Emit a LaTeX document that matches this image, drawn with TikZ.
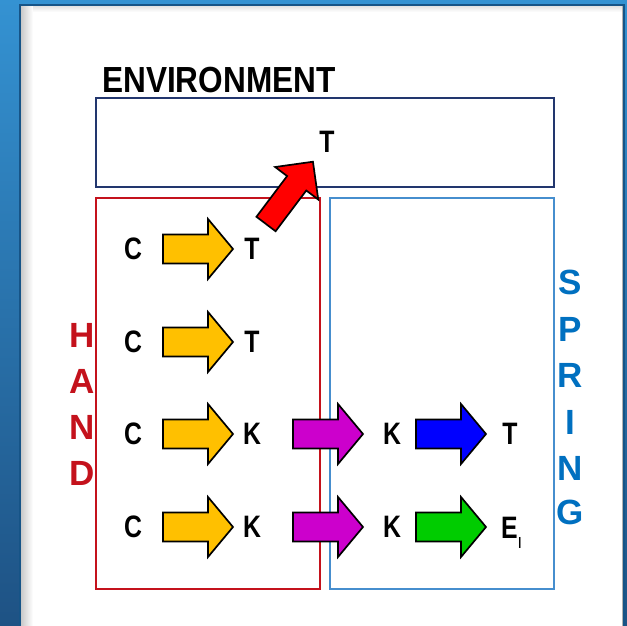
\documentclass[tikz,border=0pt]{standalone}
\usepackage{fontspec}
\setmainfont{Liberation Sans}
\usepackage{graphicx}
\definecolor{bgtop}{RGB}{52,146,210}
\definecolor{bgbot}{RGB}{30,82,132}
\definecolor{edgeblue}{RGB}{22,84,135}
\definecolor{handred}{RGB}{196,18,28}
\definecolor{springblue}{RGB}{0,112,192}
\definecolor{springline}{RGB}{70,142,206}
\definecolor{envnavy}{RGB}{34,54,110}
\definecolor{arryellow}{RGB}{255,192,0}
\definecolor{arrmagenta}{RGB}{204,0,204}
\definecolor{arrblue}{RGB}{0,0,255}
\definecolor{arrgreen}{RGB}{0,204,0}
\definecolor{arrred}{RGB}{255,0,0}
\newcommand{\nar}[1]{\scalebox{0.8}[1]{#1}}
\begin{document}
\begin{tikzpicture}[x=1pt,y=-1pt,
  lbl/.style={inner sep=0pt, font=\fontsize{31}{31}\selectfont\bfseries},
  sidelbl/.style={inner sep=0pt, font=\fontsize{35}{35}\selectfont\bfseries},
  boxline/.style={line width=2pt},
  blockarrow/.pic={\draw[line width=1.7pt, line join=miter, pic actions]
     (0,-14.5) -- (45,-14.5) -- (45,-30) -- (70,0) -- (45,30) -- (45,14.5) -- (0,14.5) -- cycle;},
  bigarrow/.pic={\draw[line width=1.7pt, line join=miter, pic actions]
     (0,-12) -- (51,-12) -- (51,-27) -- (78,0) -- (51,27) -- (51,12) -- (0,12) -- cycle;}
]
\useasboundingbox (0,0) rectangle (627,626);
% background frame
\shade[top color=bgtop, bottom color=bgbot] (0,0) rectangle (627,626);
\fill[white] (20,5) rectangle (624,626);
\shade[left color=black!22, right color=white] (20.5,5.5) rectangle (33,626);
\shade[top color=black!12, bottom color=white] (33,5.5) rectangle (623,12);
\draw[edgeblue, line width=1.5pt] (20,626) -- (20,5) -- (624,5) -- (624,626);
\draw[black!30, line width=0.8pt] (622.5,6) -- (622.5,626);

% boxes
\draw[boxline, envnavy] (96,98) rectangle (554,187);
\draw[boxline, handred] (96,198) rectangle (320,589);
\draw[boxline, springline] (330,198) rectangle (554,589);

% titles
\node[inner sep=0pt, anchor=west, font=\fontsize{36.3}{36.3}\selectfont\bfseries] (env) at (102,80) {\scalebox{0.87}[1]{ENVIRONMENT}};
\node[lbl] (tenv) at (327,142) {\nar{T}};

\node[sidelbl, handred] (h1) at (82,335) {H};
\node[sidelbl, handred] (h2) at (82,381) {A};
\node[sidelbl, handred] (h3) at (82,427) {N};
\node[sidelbl, handred] (h4) at (82,473) {D};

\node[sidelbl, springblue] (s1) at (570,282) {S};
\node[sidelbl, springblue] (s2) at (570,329) {P};
\node[sidelbl, springblue] (s3) at (570,375) {R};
\node[sidelbl, springblue] (s4) at (570,422) {I};
\node[sidelbl, springblue] (s5) at (570,468) {N};
\node[sidelbl, springblue] (s6) at (570,512) {G};

% letters
\node[lbl] (c1) at (133,249) {\nar{C}};
\node[lbl] (t1) at (252,249) {\nar{T}};
\node[lbl] (c2) at (133,342) {\nar{C}};
\node[lbl] (t2) at (252,342) {\nar{T}};
\node[lbl] (c3) at (133,434) {\nar{C}};
\node[lbl] (k3) at (252,434) {\nar{K}};
\node[lbl] (ks3) at (392,434) {\nar{K}};
\node[lbl] (t3) at (510,434) {\nar{T}};
\node[lbl] (c4) at (133,527) {\nar{C}};
\node[lbl] (k4) at (252,527) {\nar{K}};
\node[lbl] (ks4) at (392,527) {\nar{K}};
\node[lbl, anchor=base west] (e4) at (501,538) {\nar{E}\raisebox{-10pt}{\fontsize{16}{16}\selectfont\mdseries I}};

% block arrows
\pic[fill=arryellow] at (163,249) {blockarrow};
\pic[fill=arryellow] at (163,342) {blockarrow};
\pic[fill=arryellow] at (163,434) {blockarrow};
\pic[fill=arryellow] at (163,527) {blockarrow};
\pic[fill=arrmagenta] at (293,434) {blockarrow};
\pic[fill=arrmagenta] at (293,527) {blockarrow};
\pic[fill=arrblue] at (416,434) {blockarrow};
\pic[fill=arrgreen] at (416,527) {blockarrow};
\pic[fill=arrred, rotate=53] at (266,224) {bigarrow};
\end{tikzpicture}
\end{document}
